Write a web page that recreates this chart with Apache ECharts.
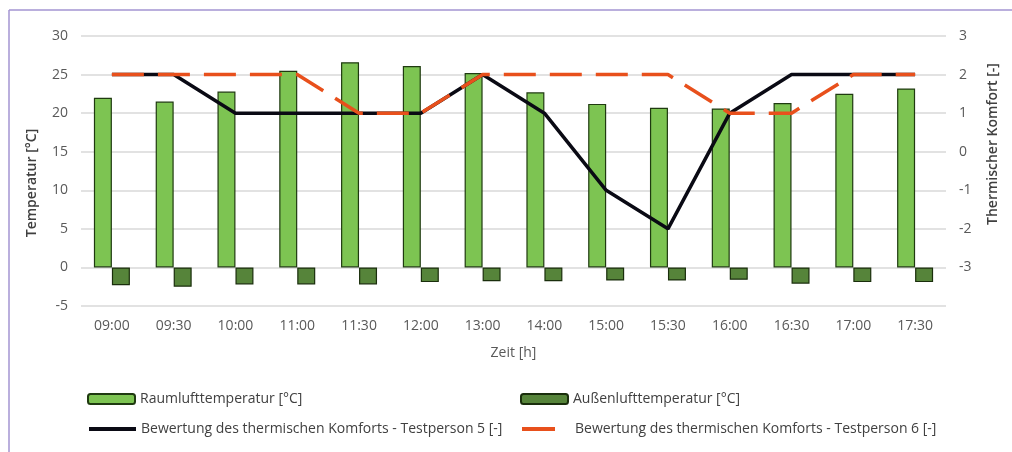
<!DOCTYPE html>
<html>
<head>
<meta charset="utf-8">
<script src="https://cdn.jsdelivr.net/npm/echarts@6/dist/echarts.min.js"></script>
<style>
  html, body { margin: 0; padding: 0; background: #ffffff; }
  #chart { width: 1012px; height: 452px; }
</style>
</head>
<body>
<div id="chart"></div>
<script>
// Messzeitpunkte
const times = ['09:00', '09:30', '10:00', '11:00', '11:30', '12:00', '13:00',
               '14:00', '15:00', '15:30', '16:00', '16:30', '17:00', '17:30'];

// Temperaturen [°C]
const raumluft = [22.0, 21.5, 22.8, 25.5, 26.6, 26.1, 25.2, 22.7, 21.2, 20.7, 20.6, 21.3, 22.5, 23.2];
const aussenluft = [-2.3, -2.5, -2.2, -2.2, -2.2, -1.9, -1.8, -1.8, -1.7, -1.7, -1.6, -2.1, -1.9, -1.9];

// Bewertung des thermischen Komforts [-]
const testperson5 = [2, 2, 1, 1, 1, 1, 2, 1, -1, -2, 1, 2, 2, 2];
const testperson6 = [2, 2, 2, 2, 1, 1, 2, 2, 2, 2, 1, 1, 2, 2];

// Achsenskalen
const tempTicks = { min: -5, max: 30, interval: 5 };
const komfortTicks = { min: -4, max: 3, interval: 1 };

const names = {
  raum: 'Raumlufttemperatur [°C]',
  aussen: 'Außenlufttemperatur [°C]',
  p5: 'Bewertung des thermischen Komforts - Testperson 5 [-]',
  p6: 'Bewertung des thermischen Komforts - Testperson 6 [-]'
};

const axisFont = 'Open Sans';
const labelColor = '#595959';
const gridColor = '#d9d9d9';
const orange = '#e8501c';
const black = '#0a0a14';

const chart = echarts.init(document.getElementById('chart'), null, { renderer: 'canvas' });

// one legend entry per block so each sits in its own column/row
function legendBlock(name, left, top, extra) {
  return Object.assign({
    data: [name],
    left: left,
    top: top,
    orient: 'horizontal',
    itemWidth: 47,
    itemHeight: 10,
    padding: 0,
    selectedMode: false,
    textStyle: { fontFamily: axisFont, fontSize: 14, color: '#404040' }
  }, extra || {});
}

chart.setOption({
  animation: false,
  backgroundColor: '#ffffff',
  grid: { left: 81, right: 66, top: 36, bottom: 146, containLabel: false },
  legend: [
    legendBlock(names.raum, 87, 392),
    legendBlock(names.aussen, 520, 392),
    legendBlock(names.p5, 87, 422, { itemStyle: { opacity: 0 }, lineStyle: { width: 4 } }),
    legendBlock(names.p6, 520, 422, {
      itemWidth: 33,
      itemStyle: { opacity: 0 },
      lineStyle: { type: 'solid', width: 4 },
      textStyle: { fontFamily: axisFont, fontSize: 14, color: '#404040', padding: [0, 0, 0, 15] }
    })
  ],
  xAxis: {
    type: 'category',
    data: times,
    name: 'Zeit [h]',
    nameLocation: 'middle',
    nameGap: 40,
    nameTextStyle: { fontFamily: axisFont, fontSize: 14, color: labelColor },
    axisLine: { show: false },
    axisTick: { show: false },
    axisLabel: { fontFamily: axisFont, fontSize: 14, color: labelColor, margin: 13 }
  },
  yAxis: [
    {
      type: 'value',
      min: tempTicks.min,
      max: tempTicks.max,
      interval: tempTicks.interval,
      name: 'Temperatur [°C]',
      nameLocation: 'middle',
      nameRotate: 90,
      nameGap: 42,
      nameTextStyle: {
        fontFamily: axisFont, fontSize: 14, color: '#404040', fontWeight: 600,
        padding: [0, 24, 0, 0]
      },
      axisLine: { show: false },
      axisTick: { show: false },
      axisLabel: { fontFamily: axisFont, fontSize: 14, color: labelColor, margin: 13 },
      splitLine: { lineStyle: { color: gridColor, width: 1.5 } }
    },
    {
      type: 'value',
      position: 'right',
      min: komfortTicks.min,
      max: komfortTicks.max,
      interval: komfortTicks.interval,
      name: 'Thermischer Komfort [-]',
      nameLocation: 'middle',
      nameRotate: 90,
      nameGap: 40,
      nameTextStyle: {
        fontFamily: axisFont, fontSize: 14, color: '#404040', fontWeight: 600,
        padding: [0, 0, 0, 54]
      },
      axisLine: { show: false },
      axisTick: { show: false },
      axisLabel: {
        fontFamily: axisFont, fontSize: 14, color: labelColor, margin: 13,
        formatter: v => (v < -3 ? '' : String(v))
      },
      splitLine: { show: false }
    }
  ],
  series: [
    {
      name: names.raum,
      type: 'bar',
      yAxisIndex: 0,
      data: raumluft,
      barWidth: 18,
      barGap: '0%',
      itemStyle: { color: '#7dc452', borderColor: '#1f3a10', borderWidth: 1.2 }
    },
    {
      name: names.aussen,
      type: 'bar',
      yAxisIndex: 0,
      data: aussenluft,
      barWidth: 18,
      barGap: '0%',
      itemStyle: { color: '#56843a', borderColor: '#1a2e0c', borderWidth: 1.2 }
    },
    {
      name: names.p5,
      type: 'line',
      yAxisIndex: 1,
      data: testperson5,
      symbol: 'none',
      lineStyle: { color: black, width: 3.5 },
      itemStyle: { color: black },
      z: 3
    },
    {
      name: names.p6,
      type: 'line',
      yAxisIndex: 1,
      data: testperson6,
      symbol: 'none',
      lineStyle: { color: orange, width: 3.5, type: [32, 14] },
      itemStyle: { color: orange },
      z: 4
    }
  ],
  graphic: [
    { type: 'line', shape: { x1: 9, y1: 10, x2: 1012, y2: 10 }, style: { stroke: '#a395d2', lineWidth: 1.5 } },
    { type: 'line', shape: { x1: 9, y1: 10, x2: 9, y2: 452 }, style: { stroke: '#a395d2', lineWidth: 1.5 } }
  ]
});
</script>
</body>
</html>
